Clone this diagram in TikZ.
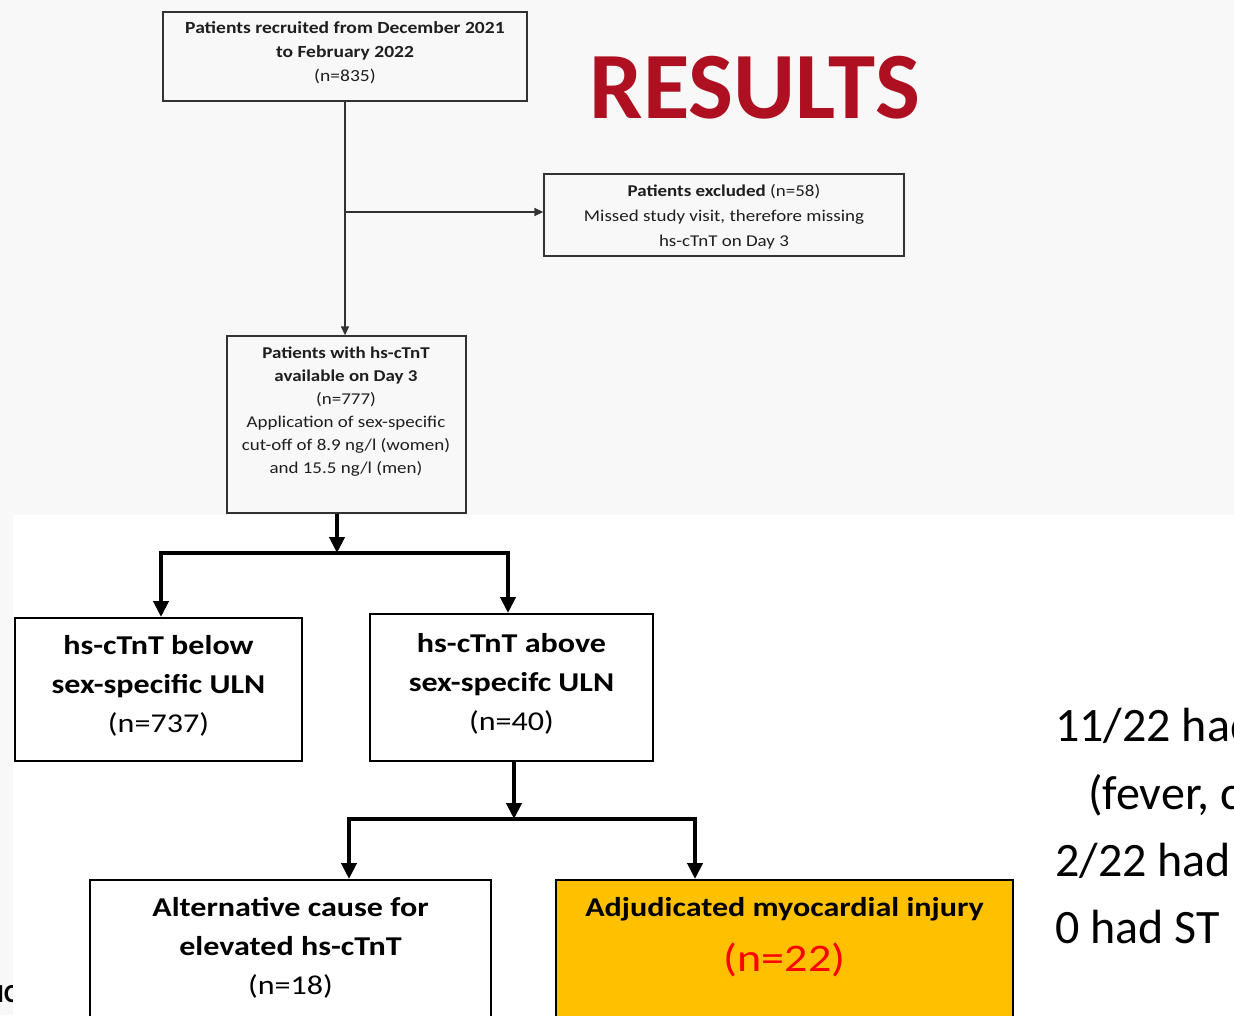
\documentclass[tikz,border=0pt]{standalone}
\usepackage{fontspec}
\setmainfont{Carlito}
\newfontfamily\flowfont[FakeStretch=1.15]{Carlito}
\newfontfamily\bigflow[FakeStretch=1.18]{Carlito}
\usetikzlibrary{arrows.meta,calc}
\definecolor{bg}{RGB}{248,248,248}
\definecolor{resred}{RGB}{174,16,34}
\definecolor{adjfill}{RGB}{255,192,0}
\definecolor{topline}{RGB}{50,50,50}
\definecolor{toptext}{RGB}{30,30,30}
\definecolor{nred}{RGB}{255,0,0}
\begin{document}
\begin{tikzpicture}[x=1pt,y=-1pt,
  topbox/.style={draw=topline,line width=1.3pt,inner sep=0pt},
  toptxt/.style={inner sep=0pt,align=center,text=toptext,font=\flowfont\fontsize{17}{24}\selectfont},
  botbox/.style={draw=black,line width=2pt,inner sep=0pt},
  bottxt/.style={inner sep=0pt,align=center,text=black,font=\bigflow\fontsize{27.2}{39}\selectfont},
  thinarrow/.style={draw=topline,line width=1.4pt,-{Triangle[length=9pt,width=8pt]}},
  thickarrow/.style={draw=black,line width=4pt,line join=miter,-{Triangle[length=16pt,width=15pt]}},
  sidetxt/.style={anchor=base west,inner sep=0pt,font=\fontsize{48}{48}\selectfont}
]
\clip (0,0) rectangle (1234,1015);
\useasboundingbox (0,0) rectangle (1234,1015);
\fill[bg] (0,0) rectangle (1234,1015);
\node[anchor=base west,inner sep=0pt,font=\bfseries\fontsize{26}{26}\selectfont] (frag) at (-3,1002) {IC};
\fill[white] (13,515) rectangle (1234,1015);

% top part
\node[topbox,minimum width=364pt,minimum height=89pt] (rec) at (345,56.5) {};
\node[toptxt] (trec) at (345,53) {\textbf{Patients recruited from December 2021}\\\textbf{to February 2022}\\(n=835)};
\node[topbox,minimum width=360pt,minimum height=82pt] (exc) at (724,215) {};
\node[toptxt,font=\flowfont\fontsize{16.5}{25}\selectfont] (texc) at (724,216.5) {\textbf{Patients excluded} (n=58)\\Missed study visit, therefore missing\\hs-cTnT on Day 3};
\node[topbox,minimum width=239pt,minimum height=177pt] (avail) at (346.5,424.5) {};
\node[toptxt,font=\flowfont\fontsize{16.5}{23}\selectfont] (tavail) at (346,411.5) {\textbf{Patients with hs-cTnT}\\\textbf{available on Day 3}\\(n=777)\\Application of sex-specific\\cut-off of 8.9 ng/l (women)\\and 15.5 ng/l (men)};
\draw[thinarrow] (rec.south) -- (rec.south |- avail.north);
\coordinate (b1) at (345,212);
\draw[thinarrow] (b1) -- (b1 -| exc.west);

\node[font=\bfseries\fontsize{95}{95}\selectfont,text=resred,inner sep=0pt] (res) at (755,87.5) {RESULTS};

% bottom part
\node[botbox,minimum width=287pt,minimum height=143pt] (below) at (158.5,689.5) {};
\node[bottxt] (tbelow) at (158.5,685.5) {\textbf{hs-cTnT below}\\\textbf{sex-specific ULN}\\(n=737)};
\node[botbox,minimum width=283pt,minimum height=147pt] (above) at (511.5,687.5) {};
\node[bottxt] (tabove) at (511.5,684) {\textbf{hs-cTnT above}\\\textbf{sex-specifc ULN}\\(n=40)};
\node[botbox,minimum width=401pt,minimum height=150pt] (alt) at (290.5,955) {};
\node[bottxt] (talt) at (290.5,948) {\textbf{Alternative cause for}\\\textbf{elevated hs-cTnT}\\(n=18)};
\node[botbox,fill=adjfill,minimum width=457pt,minimum height=150pt] (adj) at (784.5,955) {};
\node[bottxt] (tadj) at (784.5,909) {\textbf{Adjudicated myocardial injury}};
\node[inner sep=0pt,text=nred,font=\bigflow\fontsize{39}{39}\selectfont] (tn22) at (784.5,960) {(n=22)};

\coordinate (j1) at (337,553);
\coordinate (l1) at (161,553);
\coordinate (r1) at (508,553);
\draw[thickarrow] (avail.south -| j1) -- (j1);
\draw[thickarrow] (r1) -- (l1) -- (l1 |- below.north);
\draw[thickarrow] (l1) -- (r1) -- (r1 |- above.north);

\coordinate (j2) at (514,819);
\coordinate (l2) at (349,819);
\coordinate (r2) at (695,819);
\draw[thickarrow] (above.south -| j2) -- (j2);
\draw[thickarrow] (r2) -- (l2) -- (l2 |- alt.north);
\draw[thickarrow] (l2) -- (r2) -- (r2 |- adj.north);

% side text
\node[sidetxt] (s1) at (1055,741) {11/22 had};
\node[sidetxt] (s2) at (1088,809) {(fever, c};
\node[sidetxt] (s3) at (1055,876) {2/22 had};
\node[sidetxt] (s4) at (1055,943) {0 had ST};
\end{tikzpicture}
\end{document}
